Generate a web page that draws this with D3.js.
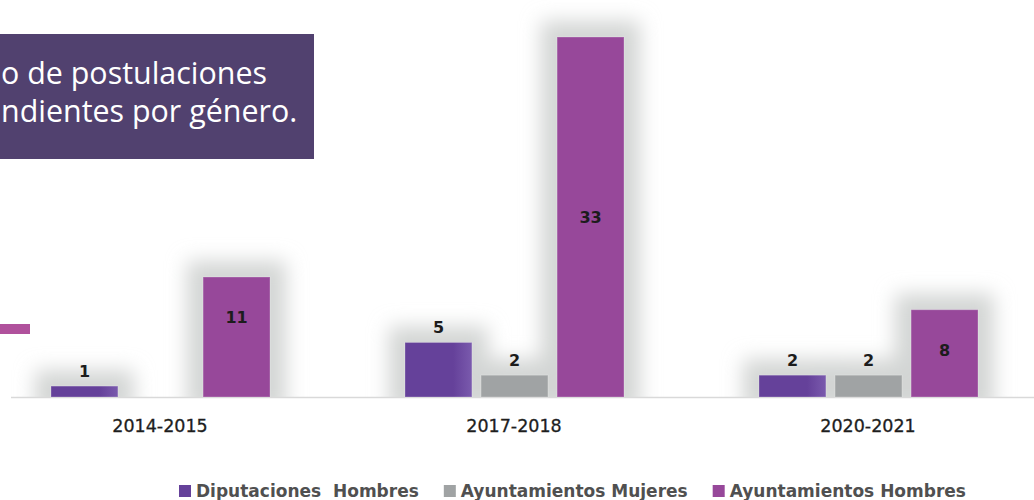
<!DOCTYPE html>
<html>
<head>
<meta charset="utf-8">
<script src="https://cdn.jsdelivr.net/npm/d3@7"></script>
<style>
  html, body { margin: 0; padding: 0; background: #fff; }
  svg { display: block; }
</style>
</head>
<body>
<svg id="chart" width="1034" height="500"></svg>
<script>
// data
var categories = ["2014-2015", "2017-2018", "2020-2021"];
var seriesNames = ["Diputaciones  Hombres", "Ayuntamientos Mujeres", "Ayuntamientos Hombres"];
var diputacionesHombres = [1, 5, 2];
var ayuntamientosMujeres = [null, 2, 2];
var ayuntamientosHombres = [11, 33, 8];
var titleLines = ["o de postulaciones", "ndientes por género."];

var colors = ["#65419a", "#a0a3a4", "#97489a"];

var svg = d3.select("#chart"),
    width = +svg.attr("width"),
    height = +svg.attr("height");

var baseline = 397;
var glowPad = 16;

var x0 = d3.scaleBand()
  .domain(categories)
  .range([-17, 1045]);

var x1 = d3.scaleBand()
  .domain(seriesNames)
  .range([68, 287])
  .paddingInner(0.12);

var y = d3.scaleLinear()
  .domain([0, 33])
  .range([baseline, 37]);

var defs = svg.append("defs");

// soft gray glow behind the bars
defs.append("filter").attr("id", "blur")
  .attr("filterUnits", "userSpaceOnUse")
  .attr("x", 0).attr("y", 0).attr("width", width).attr("height", height)
  .append("feGaussianBlur").attr("stdDeviation", 10);

defs.append("clipPath").attr("id", "plotclip")
  .append("rect").attr("x", 0).attr("y", 0).attr("width", width).attr("height", baseline);

var grad = defs.append("linearGradient").attr("id", "purpleGrad")
  .attr("x1", "0%").attr("x2", "100%").attr("y1", "0%").attr("y2", "0%");
grad.append("stop").attr("offset", "72%").attr("stop-color", colors[0]);
grad.append("stop").attr("offset", "100%").attr("stop-color", "#7a5aad");

var rows = [];
var seriesData = [diputacionesHombres, ayuntamientosMujeres, ayuntamientosHombres];
categories.forEach(function (c, i) {
  seriesNames.forEach(function (s, j) {
    if (seriesData[j][i] != null) rows.push({ cat: c, series: s, idx: j, value: seriesData[j][i] });
  });
});

function barX(d) { return x0(d.cat) + x1(d.series); }

// shadows
svg.append("g")
  .attr("clip-path", "url(#plotclip)")
  .append("g")
  .attr("filter", "url(#blur)")
  .selectAll("rect")
  .data(rows)
  .enter()
  .append("rect")
    .attr("x", function (d) { return barX(d) - glowPad; })
    .attr("y", function (d) { return y(d.value) - glowPad; })
    .attr("width", x1.bandwidth() + 2 * glowPad)
    .attr("height", function (d) { return baseline - y(d.value) + 2 * glowPad; })
    .attr("fill", "#d3d5d4");

// axis line
svg.append("line")
  .attr("x1", 11).attr("x2", width)
  .attr("y1", baseline + 0.5).attr("y2", baseline + 0.5)
  .attr("stroke", "#d9d9d9")
  .attr("stroke-width", 1.5);

// bars
svg.append("g")
  .selectAll("rect")
  .data(rows)
  .enter()
  .append("rect")
    .attr("x", barX)
    .attr("y", function (d) { return y(d.value); })
    .attr("width", x1.bandwidth())
    .attr("height", function (d) { return baseline - y(d.value); })
    .attr("fill", function (d) { return d.idx === 0 ? "url(#purpleGrad)" : colors[d.idx]; })
    .attr("stroke", "#ffffff")
    .attr("stroke-opacity", 0.25)
    .attr("stroke-width", 1);

// value labels
svg.append("g")
  .selectAll("text")
  .data(rows)
  .enter()
  .append("text")
    .attr("x", function (d) { return barX(d) + x1.bandwidth() / 2; })
    .attr("y", function (d) {
      var top = y(d.value), h = baseline - top;
      if (d.value <= 5) return top - 9;
      if (d.value < 20) return top + 46;
      return top + h / 2 + 6;
    })
    .attr("text-anchor", "middle")
    .attr("font-family", "DejaVu Sans")
    .attr("font-weight", "bold")
    .attr("font-size", 16)
    .attr("fill", "#1c1c1c")
    .text(function (d) { return d.value; });

// category labels
svg.append("g")
  .selectAll("text")
  .data(categories)
  .enter()
  .append("text")
    .attr("x", function (d) { return x0(d) + x0.bandwidth() / 2; })
    .attr("y", 432)
    .attr("text-anchor", "middle")
    .attr("font-family", "DejaVu Sans")
    .attr("font-size", 17.5)
    .attr("fill", "#1e1e1e")
    .attr("stroke", "#1e1e1e")
    .attr("stroke-width", 0.3)
    .text(function (d) { return d; });

// legend
var legend = svg.append("g");
var lx = 179;
seriesNames.forEach(function (s, j) {
  legend.append("rect")
    .attr("x", lx).attr("y", 485)
    .attr("width", 12).attr("height", 12)
    .attr("fill", colors[j]);
  var t = legend.append("text")
    .attr("x", lx + 17).attr("y", 497)
    .attr("font-family", "DejaVu Sans")
    .attr("font-weight", "bold")
    .attr("font-size", 17)
    .attr("fill", "#505050")
    .style("white-space", "pre")
    .text(s);
  lx += 17 + t.node().getComputedTextLength() + 25;
});

// slide decoration: accent bar and title box
svg.append("rect")
  .attr("x", 0).attr("y", 324)
  .attr("width", 30).attr("height", 10)
  .attr("fill", "#b0519c");

svg.append("rect")
  .attr("x", 0).attr("y", 34)
  .attr("width", 314).attr("height", 125)
  .attr("fill", "#51416f");

var title = svg.append("g")
  .selectAll("text")
  .data(titleLines)
  .enter()
  .append("text")
    .attr("x", 1)
    .attr("y", function (d, i) { return 84 + i * 38; })
    .attr("font-family", "Open Sans")
    .attr("font-size", 25)
    .attr("fill", "#ffffff")
    .text(function (d) { return d; });

// fit the first title line to the width seen in the slide
var w0 = title.nodes()[0].getComputedTextLength();
title.attr("font-size", 25 * 266 / w0);
</script>
</body>
</html>
